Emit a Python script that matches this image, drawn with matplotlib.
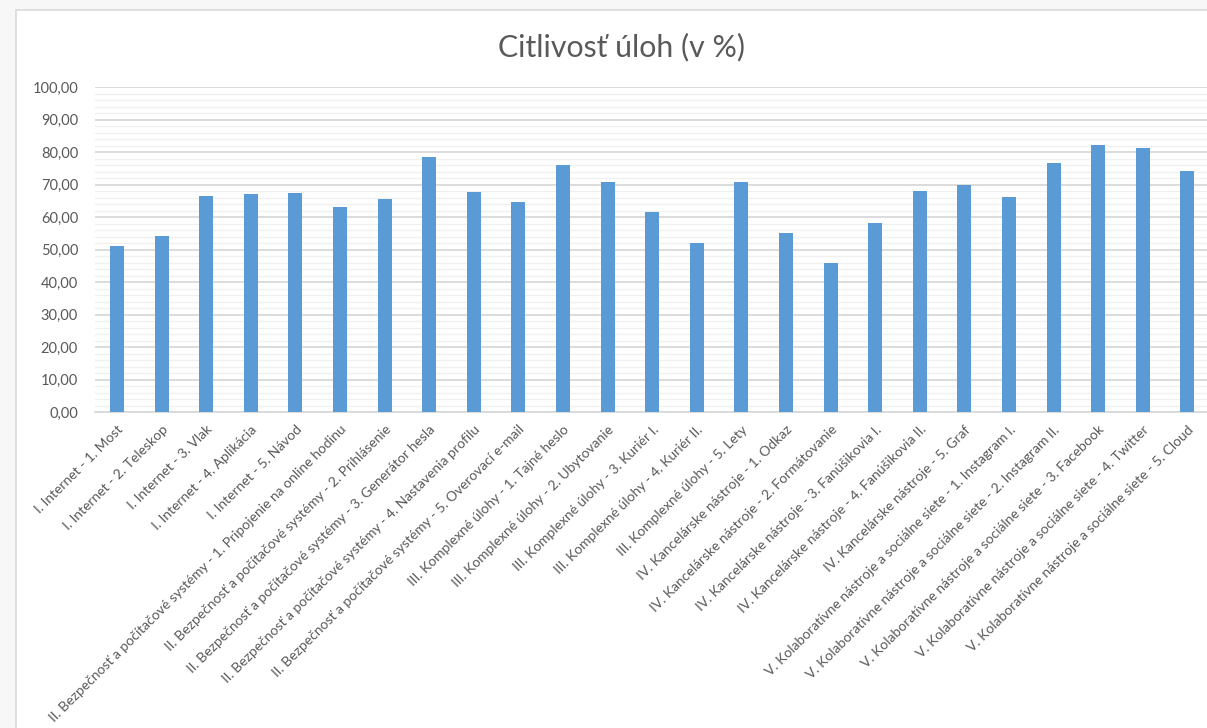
import matplotlib
matplotlib.use("Agg")
import matplotlib.pyplot as plt
from matplotlib.patches import Rectangle
from matplotlib.ticker import MultipleLocator, FuncFormatter

# Data
categories = [
    "I. Internet - 1. Most",
    "I. Internet - 2. Teleskop",
    "I. Internet - 3. Vlak",
    "I. Internet - 4. Aplikácia",
    "I. Internet - 5. Návod",
    "II. Bezpečnosť a počítačové systémy - 1. Pripojenie na online hodinu",
    "II. Bezpečnosť a počítačové systémy - 2. Prihlásenie",
    "II. Bezpečnosť a počítačové systémy - 3. Generátor hesla",
    "II. Bezpečnosť a počítačové systémy - 4. Nastavenia profilu",
    "II. Bezpečnosť a počítačové systémy - 5. Overovací e-mail",
    "III. Komplexné úlohy - 1. Tajné heslo",
    "III. Komplexné úlohy - 2. Ubytovanie",
    "III. Komplexné úlohy - 3. Kuriér I.",
    "III. Komplexné úlohy - 4. Kuriér II.",
    "III. Komplexné úlohy - 5. Lety",
    "IV. Kancelárske nástroje - 1. Odkaz",
    "IV. Kancelárske nástroje - 2. Formátovanie",
    "IV. Kancelárske nástroje - 3. Fanúšikovia I.",
    "IV. Kancelárske nástroje - 4. Fanúšikovia II.",
    "IV. Kancelárske nástroje - 5. Graf",
    "V. Kolaboratívne nástroje a sociálne siete - 1. Instagram I.",
    "V. Kolaboratívne nástroje a sociálne siete - 2. Instagram II.",
    "V. Kolaboratívne nástroje a sociálne siete - 3. Facebook",
    "V. Kolaboratívne nástroje a sociálne siete - 4. Twitter",
    "V. Kolaboratívne nástroje a sociálne siete - 5. Cloud",
]
values = [
    51.0, 54.3, 66.5, 67.1, 67.3,
    63.0, 65.6, 78.4, 67.8, 64.7,
    76.0, 70.8, 61.5, 52.0, 70.8,
    55.2, 45.8, 58.2, 67.9, 69.9,
    66.1, 76.5, 82.2, 81.3, 74.2,
]
title = "Citlivosť úloh (v %)"

bar_color = "#5B9BD5"
text_color = "#595959"
plt.rcParams["font.family"] = ["Lato", "DejaVu Sans"]

fig = plt.figure(figsize=(12.07, 7.28), dpi=100)
fig.patch.set_facecolor("#F7F7F7")

# chart area frame
fig.patches.append(Rectangle((15.5 / 1207, -0.01), 1.0, 1.01 - 10.5 / 728,
                             transform=fig.transFigure, facecolor="white",
                             edgecolor="#D9D9D9", linewidth=1.2, zorder=-5))

ax = fig.add_axes([94.7 / 1207, 315.7 / 728, 1115 / 1207, 325.3 / 728])
ax.set_facecolor("none")
ax.set_zorder(2)

x = list(range(len(categories)))
ax.bar(x, values, width=0.31, color=bar_color, zorder=3)

ax.set_xlim(-0.5, len(categories) - 0.5)
ax.set_ylim(0, 100)
ax.yaxis.set_major_locator(MultipleLocator(10))
ax.yaxis.set_minor_locator(MultipleLocator(2))
ax.yaxis.set_major_formatter(FuncFormatter(lambda v, p: f"{v:.2f}".replace(".", ",")))
ax.grid(axis="y", which="major", color="#D9D9D9", linewidth=1.3, zorder=1)
ax.grid(axis="y", which="minor", color="#F0F0F0", linewidth=1.0, zorder=0)
ax.set_axisbelow(True)

for s in ["top", "right", "left"]:
    ax.spines[s].set_visible(False)
ax.spines["bottom"].set_color("#D9D9D9")
ax.spines["bottom"].set_linewidth(1.3)

ax.tick_params(axis="y", which="both", length=0, pad=12, labelsize=10.5, labelcolor=text_color)
ax.tick_params(axis="x", length=0, pad=8, labelcolor=text_color)
ax.set_xticks(x)
ax.set_xticklabels(categories, rotation=45, ha="right", rotation_mode="anchor", fontsize=10)

fig.text(621 / 1207, 1 - 47 / 728, title, ha="center", va="center",
         fontsize=21.8, color=text_color)

fig.savefig("out.png", dpi=100)
